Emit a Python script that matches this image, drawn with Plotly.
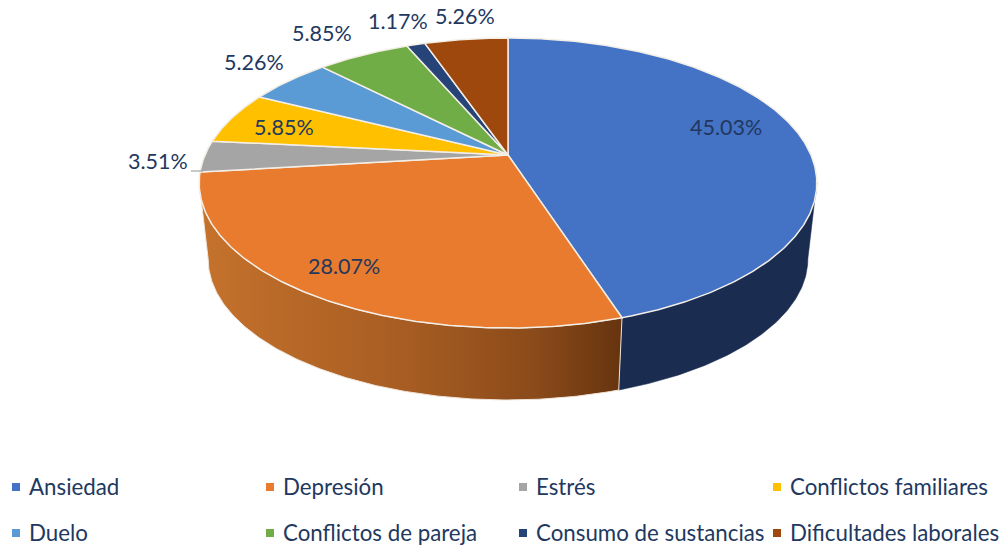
import numpy as np
import plotly.graph_objects as go

categories = ['Ansiedad', 'Depresión', 'Estrés', 'Conflictos familiares',
              'Duelo', 'Conflictos de pareja', 'Consumo de sustancias', 'Dificultades laborales']
values = [45.03, 28.07, 3.51, 5.85, 5.26, 5.85, 1.17, 5.26]
value_labels = ['45.03%', '28.07%', '3.51%', '5.85%', '5.26%', '5.85%', '1.17%', '5.26%']
colors = ['#4472C4', '#E97B2E', '#A5A5A5', '#FFC000', '#5B9BD5', '#70AD47', '#264478', '#9E480E']

# where the percentages sit, in page pixels
label_x = [726, 344, 158, 284, 254, 322, 398, 465]
label_y = [127, 266, 161, 127, 62, 33, 21, 16]

# legend grid
legend_cols = [16, 270, 523, 777]
legend_rows = [487, 533]

# perspective of the disc
CX, CY = 508, 155
RX, RY = 303, 139.6
PERSP = 0.193
WALL_DROP = 77
WALL_SCALE = 0.971
TEXT_COLOR = '#22385F'
RIM = '#F3EEE6'


def project(t_deg, bottom=False):
    t = np.radians(t_deg)
    u, v = np.sin(t), np.cos(t)
    d = 1 + PERSP * v
    s = WALL_SCALE if bottom else 1
    x = CX + s * RX * u / d
    y = CY + (WALL_DROP if bottom else 0) - s * RY * v / d
    return x, y


def arc(a, b):
    return np.linspace(a, b, max(int(abs(b - a) * 2), 2))


def wall(a, b, **kwargs):
    xt, yt = project(arc(a, b))
    xb, yb = project(arc(b, a), bottom=True)
    return go.Scatter(x=np.r_[xt, xb, xt[0]], y=np.r_[yt, yb, yt[0]], mode='lines',
                      fill='toself', hoverinfo='skip', showlegend=False, **kwargs)


fig = go.Figure()

edges = np.cumsum([0] + values) / sum(values) * 360

# side walls
fig.add_trace(wall(101, edges[1], fillcolor='#1A2C50', line=dict(color='#1A2C50', width=0.5)))
fig.add_trace(wall(edges[1], 259, fillcolor='#A0561F', line=dict(color='#EFE3D6', width=1),
                   fillgradient=dict(type='horizontal',
                                     colorscale=[[0, '#C5722C'], [0.5, '#A65C22'], [0.8, '#8A4A1A'], [1, '#66340F']])))

# top face
for i, name in enumerate(categories):
    xs, ys = project(arc(edges[i], edges[i + 1]))
    fig.add_trace(go.Scatter(x=np.r_[CX, xs, CX], y=np.r_[CY, ys, CY], mode='lines', fill='toself',
                             fillcolor=colors[i], line=dict(color=RIM, width=1.5), name=name,
                             showlegend=False, hoverinfo='name'))

annotations = []
for x, y, text in zip(label_x, label_y, value_labels):
    annotations.append(dict(x=x, y=y, text=text, showarrow=False, xanchor='center', yanchor='middle',
                            font=dict(family='Lato', size=21.5, color=TEXT_COLOR)))

# legend drawn on the same pixel axes, the built in one cannot get this spacing
for i, name in enumerate(categories):
    lx = legend_cols[i % 4]
    ly = legend_rows[i // 4]
    fig.add_trace(go.Scatter(x=[lx], y=[ly], mode='markers', hoverinfo='skip', showlegend=False,
                             marker=dict(symbol='square', size=8, color=colors[i])))
    annotations.append(dict(x=lx + 11, y=ly - 1, text=name, showarrow=False, xanchor='left', yanchor='middle',
                            font=dict(family='Lato', size=22.3, color=TEXT_COLOR)))

fig.update_layout(
    width=1002, height=546,
    margin=dict(l=0, r=0, t=0, b=0),
    paper_bgcolor='white', plot_bgcolor='white',
    xaxis=dict(range=[0, 1002], visible=False, fixedrange=True),
    yaxis=dict(range=[546, 0], visible=False, fixedrange=True),
    annotations=annotations,
    shapes=[dict(type='line', x0=191, x1=203, y0=171, y1=171, line=dict(color='#A6A6A6', width=1.2))],
)

# the page's default body margin would push the chart off by 8px
fig.write_html("out.html", config={'displayModeBar': False},
               post_script="document.body.style.margin='0';document.body.style.overflow='hidden';")
